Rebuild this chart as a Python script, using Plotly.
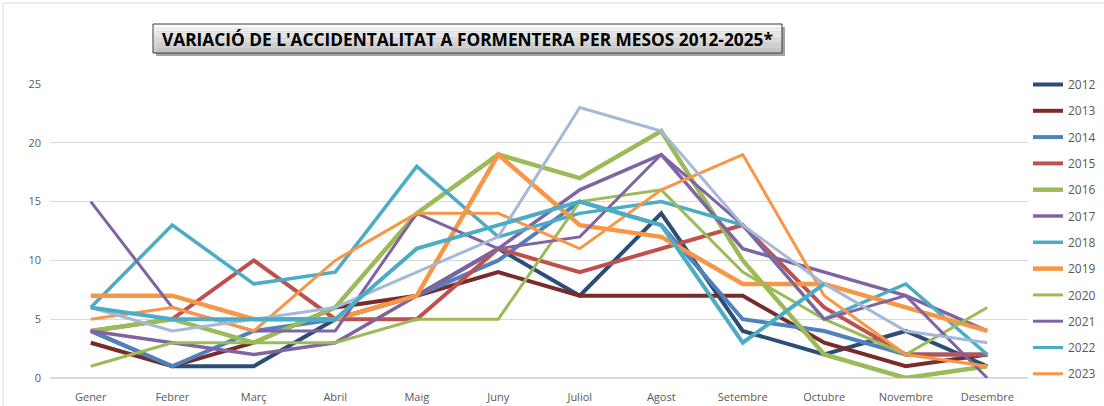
import plotly.graph_objects as go

months = ["Gener", "Febrer", "Març", "Abril", "Maig", "Juny", "Juliol",
          "Agost", "Setembre", "Octubre", "Novembre", "Desembre"]

y2012 = [4, 1, 1, 5, 7, 11, 7, 14, 4, 2, 4, 1]
y2013 = [3, 1, 3, 6, 7, 9, 7, 7, 7, 3, 1, 2]
y2014 = [4, 1, 4, 5, 7, 10, 15, 13, 5, 4, 2, 2]
y2015 = [4, 5, 10, 5, 5, 11, 9, 11, 13, 6, 2, 2]
y2016 = [4, 5, 3, 6, 14, 19, 17, 21, 10, 2, 0, 1]
y2017 = [4, 3, 2, 3, 7, 11, 16, 19, 11, 9, 7, 4]
y2018 = [6, 13, 8, 9, 18, 12, 14, 15, 13, 5, 8, 2]
y2019 = [7, 7, 5, 5, 7, 19, 13, 12, 8, 8, 6, 4]
y2020 = [1, 3, 3, 3, 5, 5, 15, 16, 9, 5, 2, 6]
y2021 = [15, 6, 4, 4, 14, 11, 12, 19, 13, 5, 7, 0]
y2022 = [None] * 12
y2023 = [5, 6, 4, 10, 14, 14, 11, 16, 19, 7, 2, 1]
y2024 = [6, 4, 5, 6, 9, 12, 23, 21, 13, 8, 4, 3]
y2025 = [6, 5, 5, 5, 11, 13, 15, 13, 3, 8, None, None]

years = ["2012", "2013", "2014", "2015", "2016", "2017", "2018",
         "2019", "2020", "2021", "2022", "2023", "2024", "2025*"]
series = [y2012, y2013, y2014, y2015, y2016, y2017, y2018,
          y2019, y2020, y2021, y2022, y2023, y2024, y2025]
colors = ["#2C4D75", "#772C2A", "#4F81BD", "#C0504D", "#9BBB59", "#8064A2",
          "#4BACC6", "#F79646", "#9BBB59", "#8064A2", "#4BACC6", "#F79646",
          "#A4B9D9", "#4BACC6"]
widths = [4, 4, 4, 4, 4.5, 3.5, 3.5, 4.5, 3, 3, 3, 3, 3, 4]
in_legend = [True] * 12 + [False, False]

W, H = 1104, 406
L, R, T, B = 50, 76, 84, 28
PW, PH = W - L - R, H - T - B


def px(x):
    return (x - L) / PW


def py(y):
    return (H - B - y) / PH


fig = go.Figure()
for name, vals, col, w, leg in zip(years, series, colors, widths, in_legend):
    fig.add_trace(go.Scatter(
        x=months[:len(vals)], y=vals, name=name, mode="lines",
        line=dict(color=col, width=w), showlegend=leg,
        legendgroup=name, cliponaxis=False, connectgaps=False,
    ))

shapes = []
# outer chart frame
shapes.append(dict(type="rect", xref="paper", yref="paper",
                   x0=px(3), x1=px(1200), y0=py(3), y1=py(500),
                   line=dict(color="#D9D9D9", width=1), fillcolor="rgba(0,0,0,0)",
                   layer="below"))
# title box: shadow, gradient bands, border
bx0, bx1, by0, by1 = 153, 782, 24, 53
shapes.append(dict(type="rect", xref="paper", yref="paper",
                   x0=px(bx0 + 3), x1=px(bx1 + 3), y0=py(by0 + 3), y1=py(by1 + 3),
                   line=dict(width=0), fillcolor="rgba(90,90,90,0.55)"))
nb = 12
for i in range(nb):
    t = i / (nb - 1)
    g = int(250 - t * 52)
    shapes.append(dict(type="rect", xref="paper", yref="paper",
                       x0=px(bx0), x1=px(bx1),
                       y0=py(by0 + (by1 - by0) * i / nb),
                       y1=py(by0 + (by1 - by0) * (i + 1) / nb),
                       line=dict(width=0), fillcolor=f"rgb({g},{g},{g})"))
shapes.append(dict(type="rect", xref="paper", yref="paper",
                   x0=px(bx0), x1=px(bx1), y0=py(by0), y1=py(by1),
                   line=dict(color="#3A3A3A", width=1), fillcolor="rgba(0,0,0,0)"))

fig.update_layout(
    width=W, height=H,
    margin=dict(l=L, r=R, t=T, b=B, pad=0, autoexpand=False),
    paper_bgcolor="white", plot_bgcolor="white",
    font=dict(family="Open Sans, sans-serif", color="#595959"),
    shapes=shapes,
    annotations=[dict(
        text="<b>VARIACIÓ DE L'ACCIDENTALITAT A FORMENTERA PER MESOS 2012-2025*</b>",
        xref="paper", yref="paper", x=px((bx0 + bx1) / 2), y=py((by0 + by1) / 2 + 1),
        xanchor="center", yanchor="middle", showarrow=False,
        font=dict(family="Open Sans, sans-serif", size=17.3, color="#000000"),
    )],
    xaxis=dict(
        type="category", range=[-0.5, 11.5], showgrid=False, zeroline=False,
        showline=False, ticks="", tickfont=dict(size=11, color="#595959"),
        ticklabelstandoff=11, fixedrange=True, automargin=False,
    ),
    yaxis=dict(
        range=[0, 25], dtick=5, showgrid=True, gridcolor="#D9D9D9", gridwidth=1,
        zeroline=True, zerolinecolor="#D9D9D9", zerolinewidth=1.5,
        ticks="", tickfont=dict(size=11, color="#595959"), ticklabelstandoff=8,
        fixedrange=True, automargin=False,
    ),
    legend=dict(
        x=px(1028), y=py(70), xanchor="left", yanchor="top",
        font=dict(size=12, color="#595959"), traceorder="grouped",
        tracegroupgap=7.3, bgcolor="rgba(0,0,0,0)", itemwidth=30,
        maxheight=400,
    ),
)

fig.write_html("out.html", config={"displayModeBar": False},
               post_script="document.body.style.margin='0';document.body.style.overflow='hidden';")
